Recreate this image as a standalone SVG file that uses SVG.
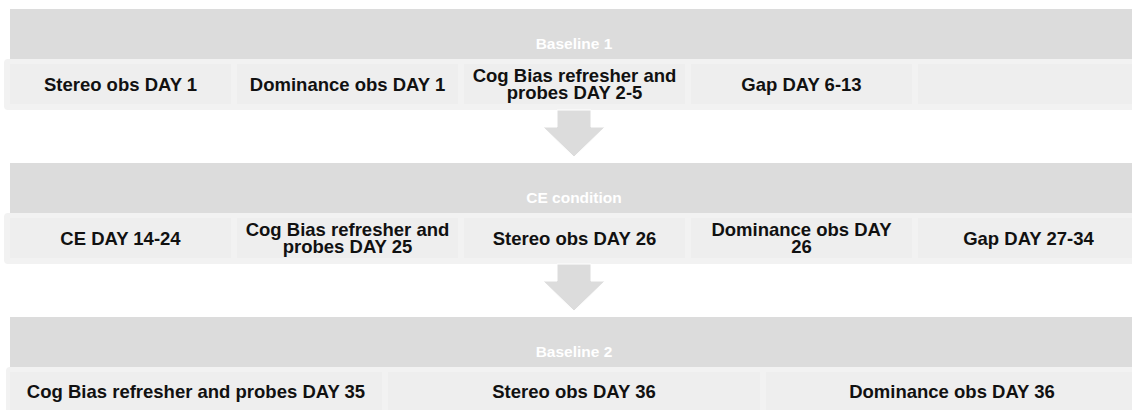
<svg xmlns="http://www.w3.org/2000/svg" width="1132" height="410" viewBox="0 0 1132 410">
<style>
.hdr{fill:#dcdcdc}
.band{fill:#f2f2f2}
.cell{fill:#eeeeee}
.arrow{fill:#dcdcdc;stroke:#ffffff;stroke-width:1}
.ttl{font-family:"Liberation Sans",Arial,sans-serif;font-weight:bold;font-size:15.5px;fill:#ffffff;text-anchor:middle}
.txt{font-family:"Liberation Sans",Arial,sans-serif;font-weight:bold;font-size:18.5px;fill:#111111;text-anchor:middle}
</style>
<rect width="1132" height="410" fill="#ffffff"/>

<!-- Phase 1 -->
<g id="phase-baseline1">
  <rect class="hdr" x="10" y="9" width="1130" height="50"/>
  <text class="ttl" x="574" y="49">Baseline 1</text>
  <rect class="band" x="4" y="59" width="1140" height="51" rx="4"/>
</g>
<g id="b1-stereo"><rect class="cell" x="10" y="64" width="221" height="40"/><text class="txt" x="120.5" y="90.5">Stereo obs DAY 1</text></g>
<g id="b1-dominance"><rect class="cell" x="237" y="64" width="221" height="40"/><text class="txt" x="347.5" y="90.5">Dominance obs DAY 1</text></g>
<g id="b1-cogbias"><rect class="cell" x="464" y="64" width="221" height="40"/><text class="txt" x="574.5" y="81.7">Cog Bias refresher and</text><text class="txt" x="574.5" y="99">probes DAY 2-5</text></g>
<g id="b1-gap"><rect class="cell" x="691" y="64" width="221" height="40"/><text class="txt" x="801.5" y="90.5">Gap DAY 6-13</text></g>
<g id="b1-empty"><rect class="cell" x="918" y="64" width="221" height="40"/></g>

<!-- Phase 2 -->
<g id="phase-ce">
  <rect class="hdr" x="10" y="163" width="1130" height="50"/>
  <text class="ttl" x="574" y="203">CE condition</text>
  <rect class="band" x="4" y="213" width="1140" height="51" rx="4"/>
</g>
<g id="ce-ce"><rect class="cell" x="10" y="218" width="221" height="40"/><text class="txt" x="120.5" y="244.5">CE DAY 14-24</text></g>
<g id="ce-cogbias"><rect class="cell" x="237" y="218" width="221" height="40"/><text class="txt" x="347.5" y="235.7">Cog Bias refresher and</text><text class="txt" x="347.5" y="253">probes DAY 25</text></g>
<g id="ce-stereo"><rect class="cell" x="464" y="218" width="221" height="40"/><text class="txt" x="574.5" y="244.5">Stereo obs DAY 26</text></g>
<g id="ce-dominance"><rect class="cell" x="691" y="218" width="221" height="40"/><text class="txt" x="801.5" y="235.7">Dominance obs DAY</text><text class="txt" x="801.5" y="253">26</text></g>
<g id="ce-gap"><rect class="cell" x="918" y="218" width="221" height="40"/><text class="txt" x="1028.5" y="244.5">Gap DAY 27-34</text></g>

<!-- Phase 3 -->
<g id="phase-baseline2">
  <rect class="hdr" x="10" y="317" width="1130" height="50"/>
  <text class="ttl" x="574" y="357">Baseline 2</text>
  <rect class="band" x="6" y="367" width="1140" height="51" rx="4"/>
</g>
<g id="b2-cogbias"><rect class="cell" x="10" y="372" width="372" height="40"/><text class="txt" x="196" y="397.5">Cog Bias refresher and probes DAY 35</text></g>
<g id="b2-stereo"><rect class="cell" x="388" y="372" width="372" height="40"/><text class="txt" x="574" y="397.5">Stereo obs DAY 36</text></g>
<g id="b2-dominance"><rect class="cell" x="766" y="372" width="372" height="40"/><text class="txt" x="952" y="397.5">Dominance obs DAY 36</text></g>

<!-- Connectors -->
<g id="connectors">
  <path class="arrow" d="M557 110 H591 V127 H605 L574 157 L543 127 H557 Z"/>
  <path class="arrow" d="M557 264 H591 V281 H605 L574 311 L543 281 H557 Z"/>
</g>
</svg>
